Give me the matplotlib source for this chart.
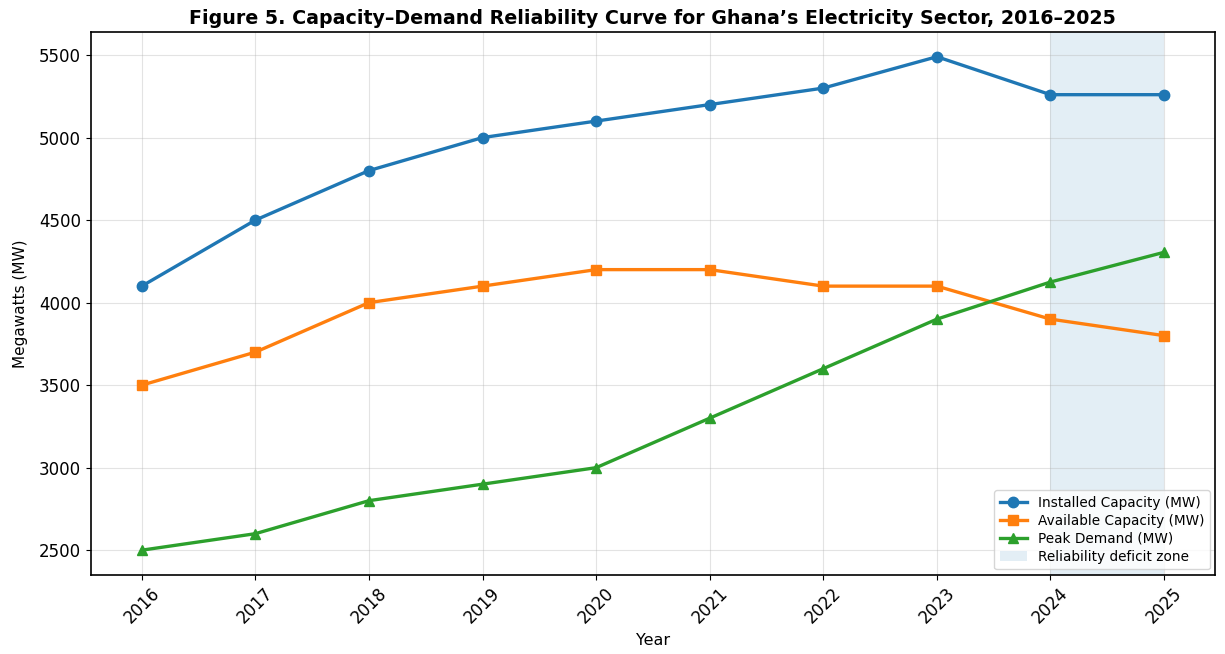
import matplotlib
matplotlib.use('Agg')
import matplotlib.pyplot as plt

years = [2016, 2017, 2018, 2019, 2020, 2021, 2022, 2023, 2024, 2025]
installed = [4100, 4500, 4800, 5000, 5100, 5200, 5300, 5490, 5260, 5260]
available = [3500, 3700, 4000, 4100, 4200, 4200, 4100, 4100, 3900, 3800]
peak = [2500, 2600, 2800, 2900, 3000, 3300, 3600, 3900, 4125, 4305]

fig, ax = plt.subplots(figsize=(12.25, 6.54), dpi=100)

ax.plot(years, installed, marker='o', linewidth=2.4, markersize=7.5, label='Installed Capacity (MW)')
ax.plot(years, available, marker='s', linewidth=2.4, markersize=7.5, label='Available Capacity (MW)')
ax.plot(years, peak, marker='^', linewidth=2.4, markersize=7.5, label='Peak Demand (MW)')
ax.axvspan(2024, 2025, color='#1f77b4', alpha=0.12, lw=0, label='Reliability deficit zone')

ax.set_title("Figure 5. Capacity\u2013Demand Reliability Curve for Ghana\u2019s Electricity Sector, 2016\u20132025",
             fontsize=13.7, fontweight='bold')
ax.set_xlabel('Year', fontsize=11.5)
ax.set_ylabel('Megawatts (MW)', fontsize=11, labelpad=8)
ax.set_xticks(years)
ax.tick_params(axis='x', rotation=45, labelsize=12)
ax.tick_params(axis='y', labelsize=12)
ax.grid(True, alpha=0.35)
for sp in ax.spines.values():
    sp.set_linewidth(1.2)
ax.legend(loc='lower right', fontsize=9.8, labelspacing=0.3, borderaxespad=0.4)

fig.subplots_adjust(left=0.074, right=0.992, top=0.951, bottom=0.121)
plt.savefig('out.png', dpi=100)
